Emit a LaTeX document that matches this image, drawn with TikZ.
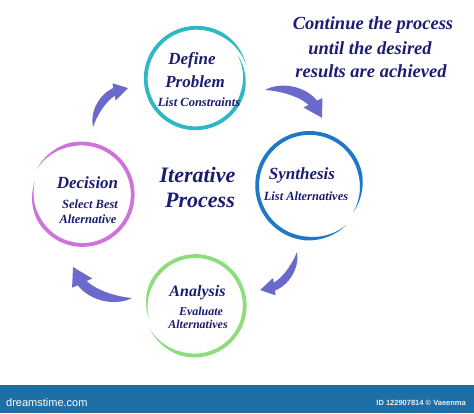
\documentclass[tikz,border=0pt]{standalone}
\usepackage{fontspec}
\setmainfont{Liberation Serif}
\newfontfamily\sansf{Liberation Sans}
\definecolor{navy}{HTML}{1C1C72}
\definecolor{teal}{HTML}{2DB8C4}
\definecolor{synblue}{HTML}{1E78C8}
\definecolor{anagreen}{HTML}{8EDD7C}
\definecolor{decpink}{HTML}{CF72DA}
\definecolor{arrowc}{HTML}{6A6ACC}
\definecolor{barblue}{HTML}{1D6FA5}
\newcommand\brushring[7]{%
\fill[#6] plot[domain=#4:#5,samples=160,variable=\t]
 ({#1+(#3+#7*(\t-#4)/(#5-#4)+1.9*min(1,(\t-#4)/45,(#5-\t)/45))*cos(\t)},
  {#2+(#3+#7*(\t-#4)/(#5-#4)+1.9*min(1,(\t-#4)/45,(#5-\t)/45))*sin(\t)})
 -- plot[domain=#5:#4,samples=160,variable=\t]
 ({#1+(#3+#7*(\t-#4)/(#5-#4)-1.9*min(1,(\t-#4)/45,(#5-\t)/45))*cos(\t)},
  {#2+(#3+#7*(\t-#4)/(#5-#4)-1.9*min(1,(\t-#4)/45,(#5-\t)/45))*sin(\t)}) -- cycle;}
\tikzset{
  txt/.style={text=navy, font=\bfseries\itshape, align=center, inner sep=0pt},
  big/.style={txt, font=\bfseries\itshape\fontsize{17}{20}\selectfont},
  small/.style={txt, font=\bfseries\itshape\fontsize{12.5}{15}\selectfont},
  huge/.style={txt, font=\bfseries\itshape\fontsize{22}{26}\selectfont},
  note/.style={txt, font=\bfseries\itshape\fontsize{18.5}{22}\selectfont},
  swoosh/.pic={\fill[arrowc] (0,0) .. controls (10,14) and (32,20) .. (48.7,12.6)
     -- (52.1,16.9) -- (60,0) -- (39.9,1.1) -- (43.3,5.4)
     .. controls (30,9) and (12,5) .. (0,0) -- cycle;}
}
\begin{document}
\begin{tikzpicture}[x=1pt,y=1pt]
\useasboundingbox (0,0) rectangle (474,413);
\fill[white] (0,0) rectangle (474,413);
% rings
\brushring{196}{334}{52}{15}{390}{teal}{-4}
\brushring{310}{228}{51}{-32}{312}{synblue}{3}
\brushring{195}{108}{51}{-152}{198}{anagreen}{-3}
\brushring{82}{218}{49}{-197}{150}{decpink}{3}
% arrows
\pic[rotate=48,scale=0.873] at (93,286) {swoosh};
\pic[rotate=-26,scale=1.058] at (265,323) {swoosh};
\pic[rotate=225.8,scale=0.883] at (297,161) {swoosh};
\pic[rotate=152.3,scale=1.11] at (132,115) {swoosh};
% texts
\node[big] (d1) at (192,353) {Define};
\node[big] (d2) at (195,331) {Problem};
\node[small] (d3) at (199,311) {List Constraints};
\node[big] (s1) at (302,238) {Synthesis};
\node[small] (s2) at (306,217) {List Alternatives};
\node[txt, font=\bfseries\itshape\fontsize{16}{19}\selectfont] (a1) at (197.5,120) {Analysis};
\node[txt, font=\bfseries\itshape\fontsize{12}{14}\selectfont] (a2) at (201,102) {Evaluate};
\node[txt, font=\bfseries\itshape\fontsize{12}{14}\selectfont] (a3) at (198,89) {Alternatives};
\node[big] (c1) at (87.5,230) {Decision};
\node[small] (c2) at (90,209) {Select Best};
\node[small] (c3) at (88,194) {Alternative};
\node[huge] (i1) at (197.5,238) {Iterative};
\node[huge] (i2) at (200,213) {Process};
\node[note] (n1) at (373,388) {Continue the process};
\node[note] (n2) at (370,365) {until the desired};
\node[note] (n3) at (371,342) {results are achieved};
% bottom bar
\fill[barblue] (0,0) rectangle (474,28);
\node[anchor=west, text=white, font=\sansf\fontsize{11}{13}\selectfont, inner sep=0pt] (w1) at (6,10) {dreamstime.com};
\node[anchor=east, text=white!90!barblue, font=\sansf\bfseries\fontsize{7.5}{9}\selectfont, inner sep=0pt] (w2) at (466,10) {ID 122907814 \textcopyright{} Vaeenma};
\end{tikzpicture}
\end{document}
